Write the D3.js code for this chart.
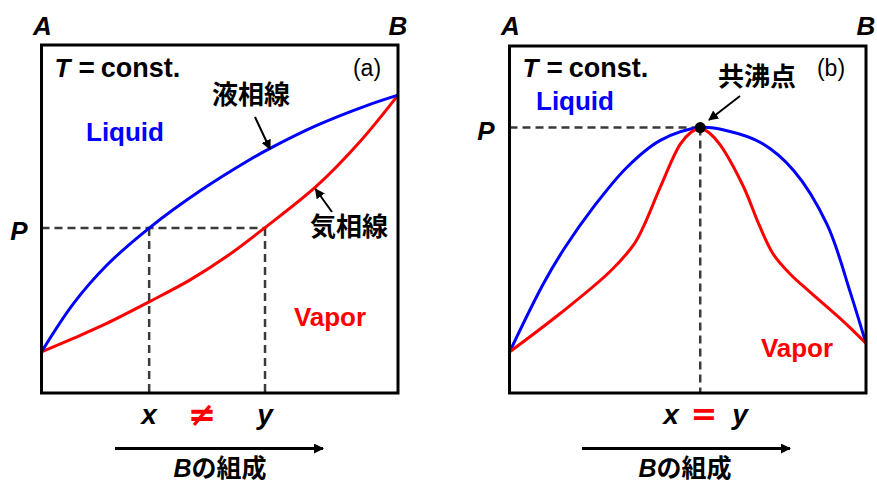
<!DOCTYPE html>
<html><head><meta charset="utf-8">
<script src="https://cdn.jsdelivr.net/npm/d3@7"></script>
<style>body{margin:0;background:#fff}svg{display:block}</style>
</head><body><svg id="c" width="877" height="483"></svg>
<script>
// ---- data (composition of B: 0..1, pressure: relative 0..1) ----
const liquidA_x = [0, 0.089, 0.183, 0.302, 0.445, 0.585, 0.641, 0.772, 0.912, 1];
const liquidA_p = [0.118, 0.256, 0.367, 0.474, 0.581, 0.671, 0.703, 0.769, 0.826, 0.856];
const vaporA_x  = [0, 0.089, 0.183, 0.302, 0.417, 0.519, 0.624, 0.772, 0.893, 1];
const vaporA_p  = [0.118, 0.157, 0.200, 0.262, 0.325, 0.392, 0.473, 0.595, 0.722, 0.856];
const pointA = {x: 0.302, y: 0.627, p: 0.474};

const liquidB_x = [0, 0.095, 0.156, 0.235, 0.329, 0.423, 0.535, 0.610, 0.704, 0.797, 0.891, 0.956, 1];
const liquidB_p = [0.118, 0.315, 0.420, 0.535, 0.650, 0.728, 0.765, 0.756, 0.722, 0.641, 0.485, 0.290, 0.143];
const vaporB1_x = [0, 0.142, 0.282, 0.350, 0.376, 0.423, 0.479, 0.510, 0.535];
const vaporB1_p = [0.118, 0.229, 0.350, 0.430, 0.480, 0.593, 0.717, 0.752, 0.765];
const vaporB2_x = [0.535, 0.560, 0.591, 0.657, 0.700, 0.740, 0.790, 0.844, 0.938, 1];
const vaporB2_p = [0.765, 0.750, 0.715, 0.593, 0.485, 0.400, 0.340, 0.290, 0.205, 0.143];
const azeotrope = {x: 0.535, p: 0.765};

const SANS = "'Liberation Sans', Arial, sans-serif";
const CJK = "'Noto Sans CJK JP', 'Noto Sans CJK SC', sans-serif";
const BLUE = "#0000ff", RED = "#ff0000", DASH = "#3a3a3a";

const svg = d3.select("#c");
const defs = svg.append("defs");
defs.append("marker").attr("id","ah").attr("viewBox","0 0 10 10")
  .attr("refX",9).attr("refY",5).attr("markerWidth",10).attr("markerHeight",10)
  .attr("markerUnits","userSpaceOnUse").attr("orient","auto")
  .append("path").attr("d","M0,0 L10,5 L0,10 z").attr("fill","#000");
defs.append("marker").attr("id","ah2").attr("viewBox","0 0 10 10")
  .attr("refX",9).attr("refY",5).attr("markerWidth",12).attr("markerHeight",10)
  .attr("markerUnits","userSpaceOnUse").attr("orient","auto")
  .append("path").attr("d","M0,0 L10,5 L0,10 z").attr("fill","#000");

function zip(xs, ps){ return xs.map((x,i)=>({x, p: ps[i]})); }

function panel(cfg){
  const g = svg.append("g");
  const xs = d3.scaleLinear().domain([0,1]).range([cfg.left, cfg.right]);
  const ys = d3.scaleLinear().domain([0,1]).range([cfg.bottom, cfg.top]);
  const line = d3.line().x(d=>xs(d.x)).y(d=>ys(d.p)).curve(d3.curveCatmullRom.alpha(0.5));
  return {g, xs, ys, line};
}

function txt(g, x, y, s, opt){
  return g.append("text").attr("x",x).attr("y",y).text(s)
    .attr("font-family", opt.family || SANS).attr("font-size", opt.size || 24)
    .attr("font-weight", opt.weight || "bold").attr("font-style", opt.style || "normal")
    .attr("fill", opt.fill || "#000").attr("text-anchor", opt.anchor || "middle");
}

function dashed(g, x1,y1,x2,y2){
  g.append("line").attr("x1",x1).attr("y1",y1).attr("x2",x2).attr("y2",y2)
    .attr("stroke",DASH).attr("stroke-width",2.5).attr("stroke-dasharray","8,5");
}

function frame(P, cfg){
  P.g.append("rect").attr("x",cfg.left).attr("y",cfg.top)
    .attr("width",cfg.right-cfg.left).attr("height",cfg.bottom-cfg.top)
    .attr("fill","none").attr("stroke","#000").attr("stroke-width",3);
}

function common(P, cfg, tag){
  const g = P.g;
  txt(g, cfg.left+1, 35, "A", {size:26, style:"italic"});
  txt(g, cfg.right, 35, "B", {size:26, style:"italic"});
  const t = g.append("text").attr("x", cfg.left+13).attr("y", 77)
    .attr("font-family",SANS).attr("font-size",26).attr("font-weight","bold");
  t.append("tspan").attr("font-style","italic").text("T");
  t.append("tspan").attr("dx",8).attr("font-size",28).text("=");
  t.append("tspan").attr("dx",6).attr("font-size",27).text("const.");
  txt(g, cfg.tagX, 76, tag, {size:23, weight:"normal"});
  const cx = cfg.arrowC;
  g.append("line").attr("x1",cx-104).attr("y1",448.5).attr("x2",cx+104).attr("y2",448.5)
    .attr("stroke","#000").attr("stroke-width",3).attr("marker-end","url(#ah2)");
  const b = g.append("text").attr("x", cfg.labelC).attr("y", 477).attr("text-anchor","middle")
    .attr("font-size",25).attr("font-weight","bold");
  b.append("tspan").attr("font-family",SANS).attr("font-style","italic").text("B");
  b.append("tspan").attr("font-family",CJK).text("の組成");
}

// ---------- panel (a) ----------
const cfgA = {left:41.5, right:398, top:45, bottom:393, tagX:367, arrowC:219, labelC:220};
const A = panel(cfgA);
dashed(A.g, cfgA.left, A.ys(pointA.p), A.xs(pointA.y), A.ys(pointA.p));
dashed(A.g, A.xs(pointA.x), A.ys(pointA.p), A.xs(pointA.x), cfgA.bottom);
dashed(A.g, A.xs(pointA.y), A.ys(pointA.p), A.xs(pointA.y), cfgA.bottom);
A.g.append("path").attr("d", A.line(zip(vaporA_x, vaporA_p))).attr("fill","none").attr("stroke",RED).attr("stroke-width",3);
A.g.append("path").attr("d", A.line(zip(liquidA_x, liquidA_p))).attr("fill","none").attr("stroke",BLUE).attr("stroke-width",3);
frame(A, cfgA);
common(A, cfgA, "(a)");
txt(A.g, 125, 141, "Liquid", {size:26, fill:BLUE});
txt(A.g, 330, 326, "Vapor", {size:26, fill:RED});
txt(A.g, 251, 104, "液相線", {size:26, family:CJK});
txt(A.g, 349, 236, "気相線", {size:26, family:CJK});
A.g.append("line").attr("x1",255).attr("y1",117).attr("x2",270).attr("y2",149)
  .attr("stroke","#000").attr("stroke-width",2).attr("marker-end","url(#ah)");
A.g.append("line").attr("x1",332).attr("y1",212).attr("x2",315.5).attr("y2",189)
  .attr("stroke","#000").attr("stroke-width",2).attr("marker-end","url(#ah)");
txt(A.g, 19, 240, "P", {size:26, style:"italic"});
txt(A.g, A.xs(pointA.x), 424, "x", {size:28, style:"italic"});
txt(A.g, A.xs(pointA.y), 424, "y", {size:28, style:"italic"});
txt(A.g, 202, 426, "≠", {size:34, fill:RED, family:"'DejaVu Sans', sans-serif"});

// ---------- panel (b) ----------
const cfgB = {left:509.5, right:866, top:46, bottom:393, tagX:831, arrowC:686, labelC:685};
const B = panel(cfgB);
dashed(B.g, cfgB.left, B.ys(azeotrope.p), B.xs(azeotrope.x), B.ys(azeotrope.p));
dashed(B.g, B.xs(azeotrope.x), B.ys(azeotrope.p), B.xs(azeotrope.x), cfgB.bottom);
B.g.append("path").attr("d", B.line(zip(liquidB_x, liquidB_p))).attr("fill","none").attr("stroke",BLUE).attr("stroke-width",3);
B.g.append("path").attr("d", B.line(zip(vaporB1_x, vaporB1_p))).attr("fill","none").attr("stroke",RED).attr("stroke-width",3);
B.g.append("path").attr("d", B.line(zip(vaporB2_x, vaporB2_p))).attr("fill","none").attr("stroke",RED).attr("stroke-width",3);
B.g.append("circle").attr("cx", B.xs(azeotrope.x)).attr("cy", B.ys(azeotrope.p)).attr("r",5.5).attr("fill","#000");
frame(B, cfgB);
common(B, cfgB, "(b)");
txt(B.g, 575, 110, "Liquid", {size:26, fill:BLUE});
txt(B.g, 797, 357, "Vapor", {size:26, fill:RED});
txt(B.g, 757, 86, "共沸点", {size:26, family:CJK});
B.g.append("line").attr("x1",740).attr("y1",96).attr("x2",709).attr("y2",120)
  .attr("stroke","#000").attr("stroke-width",2).attr("marker-end","url(#ah)");
txt(B.g, 486, 140, "P", {size:26, style:"italic"});
txt(B.g, 671, 424, "x", {size:28, style:"italic"});
txt(B.g, 740, 424, "y", {size:28, style:"italic"});
txt(B.g, 704, 425, "=", {size:32, fill:RED, family:"'DejaVu Sans', sans-serif"});
</script></body></html>
